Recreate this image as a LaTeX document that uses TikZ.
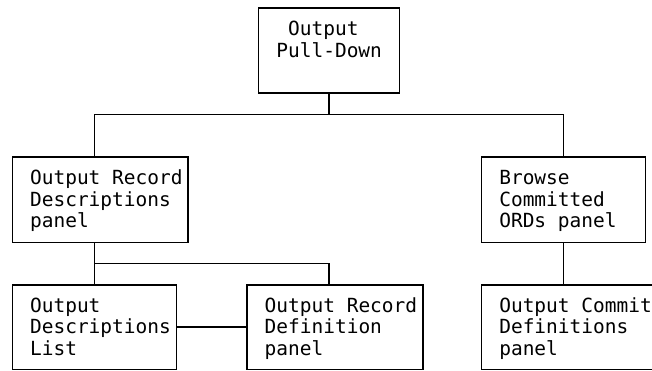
\documentclass[tikz,border=0pt]{standalone}
\usepackage{fontspec}
\setmonofont{DejaVu Sans Mono}
\usetikzlibrary{calc}
\tikzstyle{panel}=[draw, line width=1.5pt, inner sep=0pt, outer sep=0pt, anchor=north west]
\tikzstyle{paneltext}=[inner sep=0pt, anchor=north west, align=left, font=\ttfamily\fontsize{19.48pt}{21.3pt}\selectfont]
\tikzstyle{link}=[line width=1.5pt]

\begin{document}
\begin{tikzpicture}[x=1pt,y=-1pt]
	\useasboundingbox (0,0) rectangle (652,370);
	\clip (0,0) rectangle (652,370);
	\node[panel, minimum width=140.8pt, minimum height=85.2pt] (pull) at (258.6,8) {};
	\node[panel, minimum width=175.9pt, minimum height=85.2pt] (orddesc) at (12.3,157.1) {};
	\node[panel, minimum width=164.2pt, minimum height=85.2pt] (browse) at (481.5,157.1) {};
	\node[panel, minimum width=164.2pt, minimum height=84.6pt] (outdesc) at (12.3,284.9) {};
	\node[panel, minimum width=176pt, minimum height=84.6pt] (orddef) at (246.9,284.9) {};
	\node[panel, minimum width=220pt, minimum height=84.6pt] (commdef) at (481.5,284.9) {};
	\node[paneltext] (pullT) at ([xshift=17.6pt,yshift=-12.59pt]pull.north west) {\strut\ Output\\Pull-Down};
	\node[paneltext] (orddescT) at ([xshift=17.6pt,yshift=-12.59pt]orddesc.north west) {\strut Output Record\\Descriptions\\panel};
	\node[paneltext] (browseT) at ([xshift=17.6pt,yshift=-12.59pt]browse.north west) {\strut Browse\\Committed\\ORDs panel};
	\node[paneltext] (outdescT) at ([xshift=17.6pt,yshift=-12.59pt]outdesc.north west) {\strut Output\\Descriptions\\List};
	\node[paneltext] (orddefT) at ([xshift=17.6pt,yshift=-12.59pt]orddef.north west) {\strut Output Record\\Definition\\panel};
	\node[paneltext] (commdefT) at ([xshift=17.6pt,yshift=-12.59pt]commdef.north west) {\strut Output Commit\\Definitions\\panel};
	\coordinate (fork) at (329.0,114.5);
	\coordinate (split) at (329.0,263.6);
	\draw[link] (pull.south) -- (fork);
	\draw[link] ([xshift=82.1pt]orddesc.north west) |- (fork) -| (browse.north);
	\draw[link] (orddesc.south -| outdesc.north) -- (outdesc.north);
	\draw[link] (outdesc.north |- split) -- (split) -- (split |- orddef.north);
	\draw[link] (browse.south) -- (commdef.north -| browse.south);
	\draw[link] (outdesc.east) -- (orddef.west);
\end{tikzpicture}
\end{document}
